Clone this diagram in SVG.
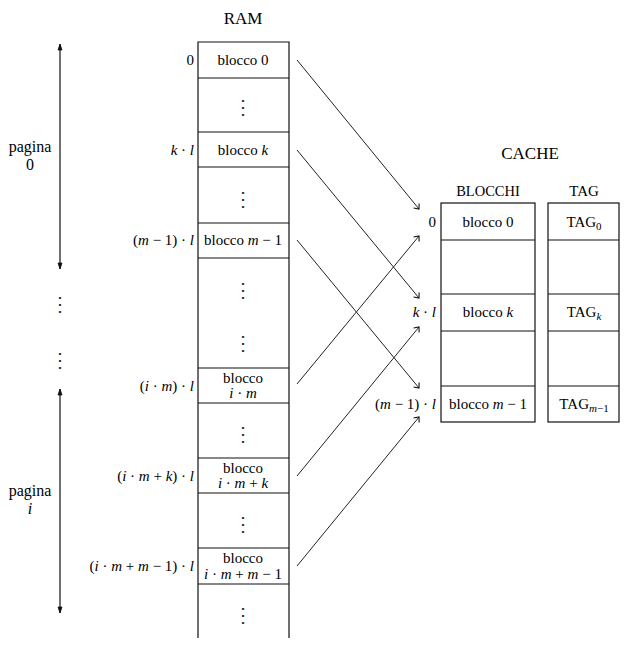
<svg xmlns="http://www.w3.org/2000/svg" width="624" height="651" viewBox="0 0 624 651">
<style>
text{font-family:"Liberation Serif","Times New Roman",serif;font-size:15px;fill:#000}
.t{font-size:17px}
.h{font-size:14.5px}
.p{font-size:16px}
.m{text-anchor:middle}
.r{text-anchor:end}
.i{font-style:italic}
.box{fill:#fff;stroke:#111;stroke-width:1.2}
.ln{stroke:#111;stroke-width:1.2;fill:none}
.c{stroke:#222;stroke-width:1;fill:none}
.d{font-family:"DejaVu Serif",serif;font-size:20px;text-anchor:middle;fill:#333}
</style>
<defs>
<marker id="ah" markerUnits="userSpaceOnUse" markerWidth="10" markerHeight="10" refX="0" refY="0" viewBox="-6 -5 7 10" orient="auto" overflow="visible">
<path d="M-4.2,-3.6 L0,0 L-4.2,3.6" fill="none" stroke="#111" stroke-width="1.1"/>
</marker>
<marker id="ahs" markerUnits="userSpaceOnUse" markerWidth="10" markerHeight="10" refX="0" refY="0" viewBox="-6 -5 7 10" orient="auto-start-reverse" overflow="visible">
<path d="M-6,-2 L0,0 L-6,2 Z" fill="#111" stroke="#111" stroke-width="0.8"/>
</marker>
</defs>

<g id="title-ram"><text class="t m" x="243" y="24">RAM</text></g>
<g id="title-cache"><text class="t m" x="530" y="159">CACHE</text></g>
<g id="title-blocchi"><text class="h m" x="488" y="196">BLOCCHI</text></g>
<g id="title-tag"><text class="m" x="584" y="196">TAG</text></g>

<g id="page0">
<line class="ln" x1="60" y1="44" x2="60" y2="269" marker-start="url(#ahs)" marker-end="url(#ahs)"/>
<text class="p m" x="30" y="152">pagina</text>
<text class="p m" x="30" y="170">0</text>
</g>
<g id="page-dots">
<text class="d" x="60" y="311">⋮</text>
<text class="d" x="60" y="367">⋮</text>
</g>
<g id="pagei">
<line class="ln" x1="60" y1="389" x2="60" y2="613" marker-start="url(#ahs)" marker-end="url(#ahs)"/>
<text class="p m" x="30" y="496">pagina</text>
<text class="p m i" x="30" y="514">i</text>
</g>

<g id="ram">
<path class="ln" d="M198,638 V42 H289 V638"/>
<path class="ln" d="M198,78 H289 M198,132 H289 M198,167 H289 M198,223 H289 M198,258 H289 M198,368 H289 M198,403 H289 M198,458 H289 M198,493 H289 M198,548 H289 M198,584 H289"/>
</g>
<g id="ram-b0"><text class="m" x="243" y="65">blocco 0</text><text class="r" x="194" y="65">0</text></g>
<g id="ram-d1"><text class="d" x="243" y="114">⋮</text></g>
<g id="ram-bk"><text class="m" x="243" y="155">blocco <tspan class="i">k</tspan></text><text class="r" x="194" y="155"><tspan class="i">k</tspan> · <tspan class="i">l</tspan></text></g>
<g id="ram-d2"><text class="d" x="243" y="206">⋮</text></g>
<g id="ram-bm1"><text class="m" x="243" y="245">blocco <tspan class="i">m</tspan> − 1</text><text class="r" x="194" y="245">(<tspan class="i">m</tspan> − 1) · <tspan class="i">l</tspan></text></g>
<g id="ram-d3"><text class="d" x="243" y="297">⋮</text><text class="d" x="243" y="350">⋮</text></g>
<g id="ram-bim"><text class="m" x="243" y="383">blocco</text><text class="m" x="243" y="398"><tspan class="i">i</tspan> · <tspan class="i">m</tspan></text><text class="r" x="194" y="391">(<tspan class="i">i</tspan> · <tspan class="i">m</tspan>) · <tspan class="i">l</tspan></text></g>
<g id="ram-d4"><text class="d" x="243" y="441">⋮</text></g>
<g id="ram-bimk"><text class="m" x="243" y="473">blocco</text><text class="m" x="243" y="488"><tspan class="i">i</tspan> · <tspan class="i">m</tspan> + <tspan class="i">k</tspan></text><text class="r" x="194" y="481">(<tspan class="i">i</tspan> · <tspan class="i">m</tspan> + <tspan class="i">k</tspan>) · <tspan class="i">l</tspan></text></g>
<g id="ram-d5"><text class="d" x="243" y="531">⋮</text></g>
<g id="ram-bimm1"><text class="m" x="243" y="563">blocco</text><text class="m" x="243" y="579"><tspan class="i">i</tspan> · <tspan class="i">m</tspan> + <tspan class="i">m</tspan> − 1</text><text class="r" x="194" y="571">(<tspan class="i">i</tspan> · <tspan class="i">m</tspan> + <tspan class="i">m</tspan> − 1) · <tspan class="i">l</tspan></text></g>
<g id="ram-d6"><text class="d" x="243" y="622">⋮</text></g>

<g id="cache-blocchi">
<rect class="box" x="441" y="203" width="94" height="219"/>
<path class="ln" d="M441,240 H535 M441,294 H535 M441,331 H535 M441,386 H535"/>
<text class="m" x="488" y="227">blocco 0</text>
<text class="m" x="488" y="317">blocco <tspan class="i">k</tspan></text>
<text class="m" x="488" y="409">blocco <tspan class="i">m</tspan> − 1</text>
<text class="r" x="436" y="227">0</text>
<text class="r" x="436" y="317"><tspan class="i">k</tspan> · <tspan class="i">l</tspan></text>
<text class="r" x="436" y="409">(<tspan class="i">m</tspan> − 1) · <tspan class="i">l</tspan></text>
</g>
<g id="cache-tag">
<rect class="box" x="548" y="203" width="71" height="219"/>
<path class="ln" d="M548,240 H619 M548,294 H619 M548,331 H619 M548,386 H619"/>
<text class="m" x="584" y="227">TAG<tspan font-size="11" dy="3">0</tspan></text>
<text class="m" x="584" y="317">TAG<tspan font-size="11" dy="3" class="i">k</tspan></text>
<text class="m" x="584" y="409">TAG<tspan font-size="11" dy="3"><tspan class="i">m</tspan>−1</tspan></text>
</g>

<g id="connectors">
<line class="c" x1="297" y1="60" x2="419" y2="209" marker-end="url(#ah)"/>
<line class="c" x1="297" y1="150" x2="419" y2="298" marker-end="url(#ah)"/>
<line class="c" x1="297" y1="240" x2="419" y2="388" marker-end="url(#ah)"/>
<line class="c" x1="297" y1="384" x2="419" y2="236" marker-end="url(#ah)"/>
<line class="c" x1="297" y1="476" x2="419" y2="327" marker-end="url(#ah)"/>
<line class="c" x1="297" y1="566" x2="419" y2="417" marker-end="url(#ah)"/>
</g>
</svg>
